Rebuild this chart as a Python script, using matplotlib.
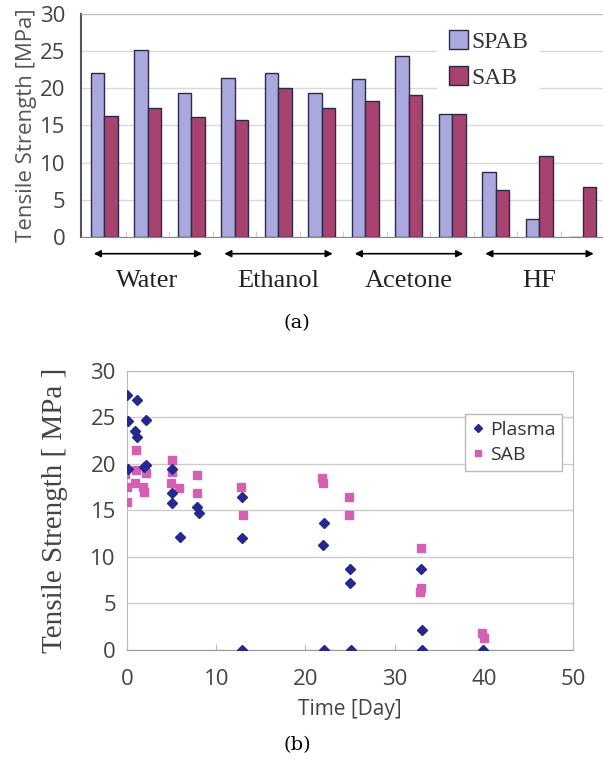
import numpy as np
import matplotlib
matplotlib.use('Agg')
import matplotlib.pyplot as plt
from matplotlib.patches import Patch
import matplotlib.transforms as mtransforms

# (a) bar chart data: 4 solvents x 3 samples
groups = ['Water', 'Ethanol', 'Acetone', 'HF']
spab = [22.1, 25.2, 19.4, 21.4, 22.1, 19.4, 21.3, 24.3, 16.5, 8.7, 2.4, 0.0]
sab = [16.3, 17.3, 16.2, 15.8, 20.1, 17.4, 18.3, 19.1, 16.6, 6.3, 10.9, 6.7]

# (b) scatter data: time [day] vs tensile strength [MPa]
plasma_day = [0.0, 0.1, 0.1, 1.1, 0.9, 1.1, 2.1, 2.1, 1.9, 5.1, 5.0, 5.1, 5.9,
              7.9, 8.1, 12.9, 12.9, 12.9, 22.1, 22.0, 22.1, 25.0, 25.0, 25.1,
              33.0, 33.1, 33.1, 39.9]
plasma_ts = [27.4, 24.6, 19.5, 26.9, 23.5, 22.9, 24.7, 19.9, 19.7, 19.5, 16.9, 15.8, 12.2,
             15.4, 14.7, 16.4, 12.0, 0.0, 13.7, 11.3, 0.0, 8.7, 7.2, 0.0,
             8.7, 2.2, 0.0, 0.0]
sab_day = [-0.2, 0.0, 0.0, 1.0, 1.0, 0.9, 1.8, 1.9, 2.1, 5.1, 5.0, 4.9, 5.8,
           7.9, 7.8, 12.8, 13.0, 21.9, 22.0, 24.9, 24.9, 33.0, 33.0, 32.9,
           39.8, 40.0]
sab_ts = [18.9, 17.5, 15.9, 21.5, 19.3, 18.0, 17.5, 17.0, 19.0, 20.4, 19.1, 18.0, 17.4,
          18.8, 16.9, 17.5, 14.5, 18.5, 18.0, 16.5, 14.5, 11.0, 6.7, 6.2,
          1.8, 1.25]

fig = plt.figure(figsize=(6.03, 7.61), dpi=100)

# ---------- (a) ----------
ax1 = fig.add_axes([0.1343, 0.6886, 0.8657, 0.293])
x = np.arange(len(spab))
w = 0.31
ax1.bar(x - w / 2, spab, w, color='#A9A9DD', edgecolor='#2A2A50', linewidth=1.0, zorder=3)
ax1.bar(x + w / 2, sab, w, color='#A8426F', edgecolor='#2A2A50', linewidth=1.0, zorder=3)
ax1.set_xlim(-0.53, 11.47)
ax1.set_ylim(0, 30)
ax1.set_yticks(np.arange(0, 31, 5))
ax1.set_xticks(np.arange(0.5, 11, 1))
ax1.set_xticklabels([])
ax1.tick_params(axis='x', direction='in', length=4, color='#cccccc')
ax1.tick_params(axis='y', length=0, pad=11, labelsize=16, labelcolor='#444444')
for lab in ax1.get_yticklabels():
    lab.set_family('Open Sans')
ax1.yaxis.grid(True, color='#d9d9d9', linewidth=1.0, zorder=0)
ax1.set_axisbelow(True)
ax1.spines['left'].set_color('#555555')
ax1.spines['left'].set_linewidth(1.5)
ax1.spines['bottom'].set_color('#888888')
ax1.spines['top'].set_color('#bbbbbb')
ax1.spines['right'].set_visible(False)
ax1.set_ylabel('Tensile Strength [MPa]', fontsize=16, color='#555555',
               family='Open Sans', labelpad=2)

for i, g in enumerate(groups):
    c = 3 * i + 1
    ax1.annotate('', xy=(c + 1.32, -0.075), xytext=(c - 1.3, -0.075),
                 xycoords=('data', 'axes fraction'), textcoords=('data', 'axes fraction'),
                 arrowprops=dict(arrowstyle='<|-|>', color='black', lw=1.2, mutation_scale=10),
                 annotation_clip=False)
    ax1.text(c, -0.197, g, transform=mtransforms.blended_transform_factory(ax1.transData, ax1.transAxes),
             ha='center', va='center', fontsize=19, family='Liberation Serif', color='#222222')

h1 = [Patch(facecolor='#A9A9DD', edgecolor='#2A2A50'), Patch(facecolor='#A8426F', edgecolor='#2A2A50')]
leg1 = ax1.legend(h1, ['SPAB', 'SAB'], loc='upper left', bbox_to_anchor=(0.66, 1.035),
                  prop={'family': 'Liberation Serif', 'size': 17}, handlelength=0.8,
                  handleheight=0.9, handletextpad=0.15, labelspacing=0.55,
                  frameon=True, facecolor='white', edgecolor='none', framealpha=1,
                  borderpad=0.5)
for t in leg1.get_texts():
    t.set_color('#333333')

fig.text(0.4925, 0.575, '(a)', ha='center', va='center', fontsize=14, family='DejaVu Serif')

# ---------- (b) ----------
ax2 = fig.add_axes([0.2106, 0.1459, 0.7396, 0.3666])
ax2.plot(plasma_day, plasma_ts, linestyle='none', marker='D', markersize=5,
         color='#24288F', label='Plasma', zorder=4)
ax2.plot(sab_day, sab_ts, linestyle='none', marker='s', markersize=5.5,
         color='#D45FB3', label='SAB', zorder=3)
ax2.set_xlim(0, 50)
ax2.set_ylim(0, 30)
ax2.set_xticks(np.arange(0, 51, 10))
ax2.set_yticks(np.arange(0, 31, 5))
ax2.tick_params(axis='x', direction='in', length=4, color='#bbbbbb', pad=14,
                labelsize=16, labelcolor='#444444')
ax2.tick_params(axis='y', length=0, pad=8, labelsize=16, labelcolor='#444444')
for lab in ax2.get_xticklabels() + ax2.get_yticklabels():
    lab.set_family('Open Sans')
ax2.yaxis.grid(True, color='#cccccc', linewidth=1.0, zorder=0)
ax2.set_axisbelow(True)
for s in ax2.spines.values():
    s.set_color('#bbbbbb')
ax2.spines['bottom'].set_color('#999999')
ax2.set_xlabel('Time [Day]', fontsize=15, color='#444444', family='Open Sans', labelpad=6)
ax2.set_ylabel('Tensile Strength [ MPa ]', fontsize=21, color='#444444',
               family='Liberation Serif', labelpad=16)

leg2 = ax2.legend(loc='upper left', bbox_to_anchor=(0.737, 0.88),
                  prop={'family': 'Open Sans', 'size': 14}, handlelength=0.6,
                  handletextpad=0.3, labelspacing=0.35, borderpad=0.35,
                  frameon=True, facecolor='white', edgecolor='#bbbbbb', framealpha=1,
                  fancybox=False, markerscale=0.8)
for t in leg2.get_texts():
    t.set_color('#333333')

fig.text(0.4925, 0.021, '(b)', ha='center', va='center', fontsize=14, family='DejaVu Serif')

fig.savefig('out.png', dpi=100, facecolor='white')
